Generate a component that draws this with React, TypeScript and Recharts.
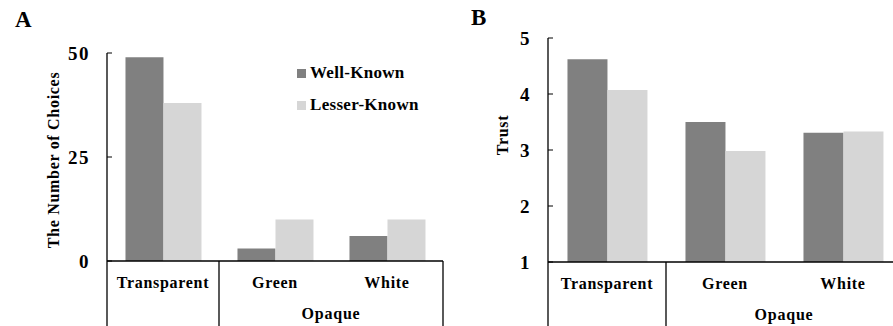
import { BarChart, Bar, XAxis, YAxis } from "recharts";

const categories = ["Transparent", "Green", "White"];
const groupLabel = "Opaque";

const choicesWell = [49, 3, 6];
const choicesLesser = [38, 10, 10];
const choicesTicks = [0, 25, 50];

const trustWell = [4.62, 3.5, 3.31];
const trustLesser = [4.07, 2.98, 3.33];
const trustTicks = [1, 2, 3, 4, 5];

const seriesNames = ["Well-Known", "Lesser-Known"];
const colors = ["#808080", "#d6d6d6"];

const FONT = "'Liberation Serif', 'Times New Roman', serif";

const choicesData = categories.map((c, i) => ({ name: c, well: choicesWell[i], lesser: choicesLesser[i] }));
const trustData = categories.map((c, i) => ({ name: c, well: trustWell[i], lesser: trustLesser[i] }));

function GroupTick(props: any) {
  const { x, y, payload, index } = props;
  const off = payload && payload.offset ? payload.offset : 56;
  return (
    <g>
      {index === 0 && <line x1={x - off} x2={x - off} y1={y} y2={y + 66} stroke="#000" strokeWidth={1.3} />}
      {index !== 1 && <line x1={x + off} x2={x + off} y1={y} y2={y + 66} stroke="#000" strokeWidth={1.3} />}
      <text x={x} y={y + 27} textAnchor="middle" fontFamily={FONT} fontWeight="bold" fontSize={16} letterSpacing={0.7} fill="#000">
        {payload.value}
      </text>
      {index === 2 && (
        <text x={x - off} y={y + 58} textAnchor="middle" fontFamily={FONT} fontWeight="bold" fontSize={16} letterSpacing={0.8} fill="#000">
          {groupLabel}
        </text>
      )}
    </g>
  );
}

function LegendBox() {
  return (
    <div style={{ fontFamily: FONT, fontWeight: "bold", fontSize: 17, letterSpacing: 0.3, color: "#000" }}>
      {seriesNames.map((n, i) => (
        <div key={n} style={{ display: "flex", alignItems: "center", height: 32 }}>
          <span style={{ display: "inline-block", width: 9, height: 9, background: colors[i], marginRight: 4 }} />
          <span>{n}</span>
        </div>
      ))}
    </div>
  );
}

function yLabel(text: string, cx: number, cy: number) {
  return () => (
    <text
      x={cx}
      y={cy}
      transform={`rotate(-90 ${cx} ${cy})`}
      textAnchor="middle"
      dominantBaseline="central"
      fontFamily={FONT}
      fontWeight="bold"
      fontSize={16}
      letterSpacing={0.7}
      fill="#000"
    >
      {text}
    </text>
  );
}

const tickStyle = { fontFamily: FONT, fontWeight: "bold" as const, fontSize: 19, fill: "#000", letterSpacing: 1.5 };

export default function App() {
  return (
    <div style={{ position: "absolute", left: 0, top: 0, width: 893, height: 326, overflow: "hidden", background: "#fff" }}>
      <div style={{ position: "absolute", left: 15, top: 7, fontFamily: FONT, fontWeight: "bold", fontSize: 23 }}>A</div>
      <div style={{ position: "absolute", left: 471, top: 5, fontFamily: FONT, fontWeight: "bold", fontSize: 23 }}>B</div>

      <div style={{ position: "absolute", left: 0, top: 0 }}>
        <BarChart width={446} height={326} data={choicesData} margin={{ top: 53, right: 3, left: 47, bottom: 0 }} barCategoryGap="16.5%" barGap={0}>
          <XAxis dataKey="name" height={65} tickLine={false} tickSize={0} tickMargin={0} axisLine={{ stroke: "#000", strokeWidth: 1.3 }} tick={<GroupTick />} interval={0} />
          <YAxis
            width={60}
            domain={[0, 50]}
            ticks={choicesTicks}
            tickSize={-5}
            tickMargin={22}
            tickLine={{ stroke: "#000" }}
            axisLine={{ stroke: "#000", strokeWidth: 1.3 }}
            tick={tickStyle}
            label={{ content: yLabel("The Number of Choices", 53, 160) }}
          />
          <Bar dataKey="well" name={seriesNames[0]} fill={colors[0]} isAnimationActive={false} />
          <Bar dataKey="lesser" name={seriesNames[1]} fill={colors[1]} isAnimationActive={false} />
        </BarChart>
      </div>

      <div style={{ position: "absolute", left: 297, top: 57 }}>
        <LegendBox />
      </div>

      <div style={{ position: "absolute", left: 446, top: 0 }}>
        <BarChart width={459} height={326} data={trustData} margin={{ top: 38, right: 3, left: 52, bottom: 0 }} barCategoryGap="16.5%" barGap={0}>
          <XAxis dataKey="name" height={64} tickLine={false} tickSize={0} tickMargin={0} axisLine={{ stroke: "#000", strokeWidth: 1.3 }} tick={<GroupTick />} interval={0} />
          <YAxis
            width={50}
            domain={[1, 5]}
            ticks={trustTicks}
            tickSize={-5}
            tickMargin={22}
            tickLine={{ stroke: "#000" }}
            axisLine={{ stroke: "#000", strokeWidth: 1.3 }}
            tick={tickStyle}
            label={{ content: yLabel("Trust", 56, 135) }}
          />
          <Bar dataKey="well" name={seriesNames[0]} fill={colors[0]} isAnimationActive={false} />
          <Bar dataKey="lesser" name={seriesNames[1]} fill={colors[1]} isAnimationActive={false} />
        </BarChart>
      </div>
    </div>
  );
}
